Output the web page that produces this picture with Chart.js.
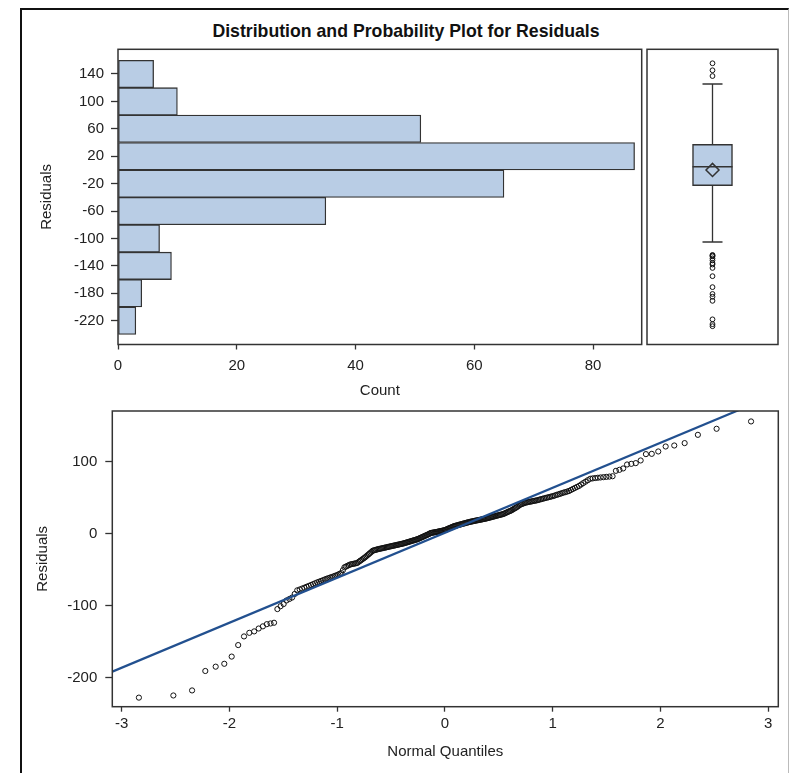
<!DOCTYPE html>
<html>
<head>
<meta charset="utf-8">
<script src="https://cdn.jsdelivr.net/npm/chart.js@4.4.0/dist/chart.umd.min.js"></script>
<style>
  html, body { margin: 0; padding: 0; background: #fff; }
  body { width: 791px; height: 773px; position: relative; overflow: hidden; font-family: "Liberation Sans", Arial, sans-serif; }
  #frame { position: absolute; left: 20px; top: 8px; width: 769px; height: 800px; box-sizing: border-box;
           border-top: 2px solid #111; border-left: 2px solid #111; border-right: 1px solid #bbb; }
  #title { position: absolute; left: 20px; width: 772px; top: 21px; line-height: 20px; text-align: center;
           font-weight: bold; font-size: 17.7px; color: #111; }
  canvas { position: absolute; }
</style>
</head>
<body>
<div id="frame"></div>
<div id="title">Distribution and Probability Plot for Residuals</div>
<canvas id="hist" width="620" height="370" style="left:30px;top:40px"></canvas>
<canvas id="box" width="150" height="320" style="left:640px;top:40px"></canvas>
<canvas id="qq" width="765" height="373" style="left:25px;top:400px"></canvas>
<script>
// histogram: bin centres (also the tick labels) and counts
const histCenters = [140, 100, 60, 20, -20, -60, -100, -140, -180, -220];
const histCounts = [6, 10, 51, 87, 65, 35, 7, 9, 4, 3];
const histXTicks = [0, 20, 40, 60, 80];

// box plot: whisker ends, quartiles (Q1, median, Q3) and mean
const boxWhiskers = [-105, 125.5];
const boxQuartiles = [-23, 4.7, 37.4];
const boxMean = 0;

// residuals, sorted
const residuals = [
  -228, -225, -218, -191, -185, -181, -171, -155, -143, -138, -136, -132, -129, -126, -125, -124,
  -105, -101, -98, -93, -91, -89, -84,
  -79, -77.8, -76.5, -75.3, -74, -72.8, -71.6, -70.4, -69.2, -68, -67, -66, -65, -64, -63,
  -62.2, -61.3, -60.5, -59.7, -58.8, -58, -57, -56, -55, -51, -47, -46, -45, -44, -43,
  -42.6, -42.2, -41.8, -41.4, -41,
  -39.5, -38.2, -36.9, -35.6, -34.3, -33, -31.5, -30, -28.5, -27, -25.5, -24,
  -23.5, -23, -22.5, -22, -21.6, -21.3, -20.9, -20.5, -20.2, -19.8, -19.5, -19.1, -18.7, -18.4, -18,
  -17.7, -17.3, -17, -16.7, -16.3, -16, -15.7, -15.3, -15, -14.7, -14.3, -14,
  -13.6, -13.1, -12.7, -12.3, -11.9, -11.4, -11, -10.6, -10.1, -9.7, -9.3, -8.9, -8.4, -8,
  -7.4, -6.8, -6.1, -5.5, -4.9, -4.3, -3.6, -3, -2.4, -1.8, -1.1, -0.5,
  0.5, 0.8, 1, 1.3, 1.5, 1.8, 2, 2.3, 2.6, 2.9, 3.2, 3.5, 3.8, 4.1, 4.4, 4.7,
  5.3, 5.9, 6.5, 7.1, 7.6, 8.2, 8.8, 9.4, 10,
  10.4, 10.8, 11.1, 11.5, 11.9, 12.3, 12.6, 13, 13.4, 13.8, 14.1, 14.5, 14.9, 15.3, 15.6, 16,
  16.3, 16.6, 16.9, 17.2, 17.5, 17.8, 18.1, 18.4, 18.6, 18.9, 19.2, 19.5, 19.8, 20.1, 20.4, 20.7, 21,
  21.4, 21.8, 22.2, 22.6, 23, 23.4, 23.8, 24.2, 24.6, 25, 25.4, 25.8, 26.2, 26.6, 27,
  27.7, 28.4, 29.1, 29.9, 30.6, 31.3, 32, 33, 34, 35, 36, 37, 38.3, 39.5,
  40.5, 41.1, 41.8, 42.4, 43, 43.4, 43.8, 44.1, 44.5, 44.9, 45.3, 45.6, 46,
  46.5, 47.1, 47.6, 48.2, 48.7, 49.3, 49.8, 50.4, 50.9, 51.5, 52,
  52.8, 53.6, 54.3, 55.1, 55.9, 56.7, 57.4, 58.2, 59, 60.4, 61.8, 63.2, 64.6, 66,
  68, 70, 72, 74, 76, 76.5, 77, 77.4, 77.8, 78.2, 78.6, 79, 79.5,
  87, 88.4, 90.3, 95.8, 96.7, 97.7, 101.4, 110.2, 110.6, 113.9,
  120.8, 122.2, 125.5, 137, 145.4, 155.6
];
const qqXTicks = [-3, -2, -1, 0, 1, 2, 3];
const qqYTicks = [-200, -100, 0, 100];

// normal reference line: mu + sigma * quantile
const refMu = 1;
const refSigma = 62.5;

// axis ranges
const histRange = [-254.7, 176];
const countMax = 88.2;
const qqXRange = [-3.087, 3.093];
const qqYRange = [-240.6, 170.1];

const fill = 'rgb(185,205,229)';
const edge = '#333';

Chart.defaults.font.family = '"Liberation Sans", Arial, sans-serif';
Chart.defaults.font.size = 15;
Chart.defaults.color = '#222';
Chart.defaults.plugins.legend.display = false;
Chart.defaults.plugins.tooltip.enabled = false;

// inverse of the standard normal cdf (Acklam)
function normInv(p) {
  const a = [-3.969683028665376e+01, 2.209460984245205e+02, -2.759285104469687e+02, 1.383577518672690e+02, -3.066479806614716e+01, 2.506628277459239e+00];
  const b = [-5.447609879822406e+01, 1.615858368580409e+02, -1.556989798598866e+02, 6.680131188771972e+01, -1.328068155288572e+01];
  const c = [-7.784894002430293e-03, -3.223964580411365e-01, -2.400758277161838e+00, -2.549732539343734e+00, 4.374664141464968e+00, 2.938163982698783e+00];
  const d = [7.784695709041462e-03, 3.224671290700398e-01, 2.445134137142996e+00, 3.754408661907416e+00];
  const pl = 0.02425;
  let q, r;
  if (p < pl) {
    q = Math.sqrt(-2 * Math.log(p));
    return (((((c[0]*q+c[1])*q+c[2])*q+c[3])*q+c[4])*q+c[5]) / ((((d[0]*q+d[1])*q+d[2])*q+d[3])*q+1);
  }
  if (p > 1 - pl) {
    q = Math.sqrt(-2 * Math.log(1 - p));
    return -(((((c[0]*q+c[1])*q+c[2])*q+c[3])*q+c[4])*q+c[5]) / ((((d[0]*q+d[1])*q+d[2])*q+d[3])*q+1);
  }
  q = p - 0.5;
  r = q * q;
  return (((((a[0]*r+a[1])*r+a[2])*r+a[3])*r+a[4])*r+a[5])*q / (((((b[0]*r+b[1])*r+b[2])*r+b[3])*r+b[4])*r+1);
}

// Blom plotting positions
const n = residuals.length;
const quantiles = residuals.map((r, i) => normInv((i + 1 - 0.375) / (n + 0.25)));
const outliers = residuals.filter(v => v < boxWhiskers[0] || v > boxWhiskers[1]);

// keep axis boxes at a fixed size so the plot areas line up
function fixAxis(size) {
  return function (scale) {
    if (scale.isHorizontal()) scale.height = size; else scale.width = size;
    scale.paddingTop = 0; scale.paddingBottom = 0;
    scale.paddingLeft = 0; scale.paddingRight = 0;
  };
}
function setTicks(values) {
  return function (scale) { scale.ticks = values.map(v => ({ value: v })); };
}
function tickGrid(len) {
  return { display: true, drawOnChartArea: false, drawTicks: true, tickLength: len, tickColor: edge, tickWidth: 1.3 };
}

const framePlugin = {
  id: 'frame',
  afterDatasetsDraw(chart) {
    const { ctx, chartArea: a } = chart;
    ctx.save();
    ctx.strokeStyle = edge;
    ctx.lineWidth = 1.5;
    ctx.strokeRect(a.left, a.top, a.right - a.left, a.bottom - a.top);
    ctx.restore();
  }
};

// histogram (horizontal)
new Chart(document.getElementById('hist'), {
  type: 'bar',
  data: {
    datasets: [{
      data: histCenters.map((c, i) => ({ x: histCounts[i], y: c })),
      backgroundColor: fill,
      borderColor: edge,
      borderWidth: 1.3,
      borderSkipped: false,
      barPercentage: 1,
      categoryPercentage: 1
    }]
  },
  options: {
    indexAxis: 'y',
    responsive: false,
    animation: false,
    layout: { padding: { top: 9.3, right: 8.3, left: 0, bottom: 0 } },
    scales: {
      x: {
        type: 'linear', min: 0, max: countMax,
        afterBuildTicks: setTicks(histXTicks),
        afterFit: fixAxis(65.5),
        grid: tickGrid(5),
        border: { display: false },
        ticks: { padding: 7.5, callback: v => String(v) },
        title: { display: true, text: 'Count', padding: { top: 0, bottom: 10 } }
      },
      y: {
        type: 'linear', min: histRange[0], max: histRange[1], offset: false,
        afterBuildTicks: setTicks(histCenters),
        afterFit: fixAxis(88),
        grid: Object.assign(tickGrid(7), { offset: false }),
        border: { display: false },
        ticks: { padding: 7, callback: v => String(v) },
        title: { display: true, text: 'Residuals', padding: { top: 8, bottom: 0 } }
      }
    }
  },
  plugins: [framePlugin]
});

// box plot
new Chart(document.getElementById('box'), {
  type: 'scatter',
  data: {
    datasets: [
      { type: 'bar', data: [{ x: 0, y: [boxQuartiles[0], boxQuartiles[2]] }], backgroundColor: fill,
        borderColor: edge, borderWidth: 1.5, borderSkipped: false, barThickness: 40, order: 3 },
      { type: 'line', data: [{ x: 0, y: boxWhiskers[0] }, { x: 0, y: boxQuartiles[0] }],
        borderColor: edge, borderWidth: 1.3, pointRadius: 0, order: 2 },
      { type: 'line', data: [{ x: 0, y: boxQuartiles[2] }, { x: 0, y: boxWhiskers[1] }],
        borderColor: edge, borderWidth: 1.3, pointRadius: 0, order: 2 },
      { data: boxWhiskers.map(v => ({ x: 0, y: v })), pointStyle: 'line', pointRadius: 10,
        borderColor: edge, borderWidth: 1.5, order: 1 },
      { data: [{ x: 0, y: boxQuartiles[1] }], pointStyle: 'line', pointRadius: 20,
        borderColor: edge, borderWidth: 1.5, order: 1 },
      { data: [{ x: 0, y: boxMean }], pointStyle: 'rectRot', pointRadius: 6.5,
        borderColor: edge, borderWidth: 1.5, backgroundColor: 'rgba(0,0,0,0)', order: 0 },
      { data: outliers.map(v => ({ x: 0, y: v })), pointStyle: 'circle', pointRadius: 2.4,
        borderColor: '#111', borderWidth: 1, backgroundColor: 'rgba(0,0,0,0)', order: 0 }
    ]
  },
  options: {
    responsive: false,
    animation: false,
    layout: { autoPadding: false, padding: { left: 7, top: 9.3, right: 12, bottom: 15.5 } },
    scales: {
      x: { type: 'linear', min: -1, max: 1, display: false },
      y: { type: 'linear', min: histRange[0], max: histRange[1], display: false }
    }
  },
  plugins: [framePlugin]
});

// normal probability plot
new Chart(document.getElementById('qq'), {
  type: 'scatter',
  data: {
    datasets: [
      { type: 'line', data: qqXRange.map(q => ({ x: q, y: refMu + refSigma * q })),
        borderColor: '#22508f', borderWidth: 2.2, pointRadius: 0, order: 0 },
      { data: residuals.map((r, i) => ({ x: quantiles[i], y: r })), pointStyle: 'circle', pointRadius: 2.6,
        borderColor: '#111', borderWidth: 1, backgroundColor: 'rgba(0,0,0,0)', order: 1 }
    ]
  },
  options: {
    responsive: false,
    animation: false,
    layout: { autoPadding: false, padding: { top: 11, right: 11.7, left: 0, bottom: 0 } },
    scales: {
      x: {
        type: 'linear', min: qqXRange[0], max: qqXRange[1],
        afterBuildTicks: setTicks(qqXTicks),
        afterFit: fixAxis(66.3),
        grid: tickGrid(5),
        border: { display: false },
        ticks: { padding: 3.5, callback: v => String(v) },
        title: { display: true, text: 'Normal Quantiles', padding: { top: 0, bottom: 12 } }
      },
      y: {
        type: 'linear', min: qqYRange[0], max: qqYRange[1],
        afterBuildTicks: setTicks(qqYTicks),
        afterFit: fixAxis(87.3),
        grid: tickGrid(7),
        border: { display: false },
        ticks: { padding: 8, callback: v => String(v) },
        title: { display: true, text: 'Residuals', padding: { top: 8.5, bottom: 0 } }
      }
    }
  },
  plugins: [framePlugin]
});
</script>
</body>
</html>
